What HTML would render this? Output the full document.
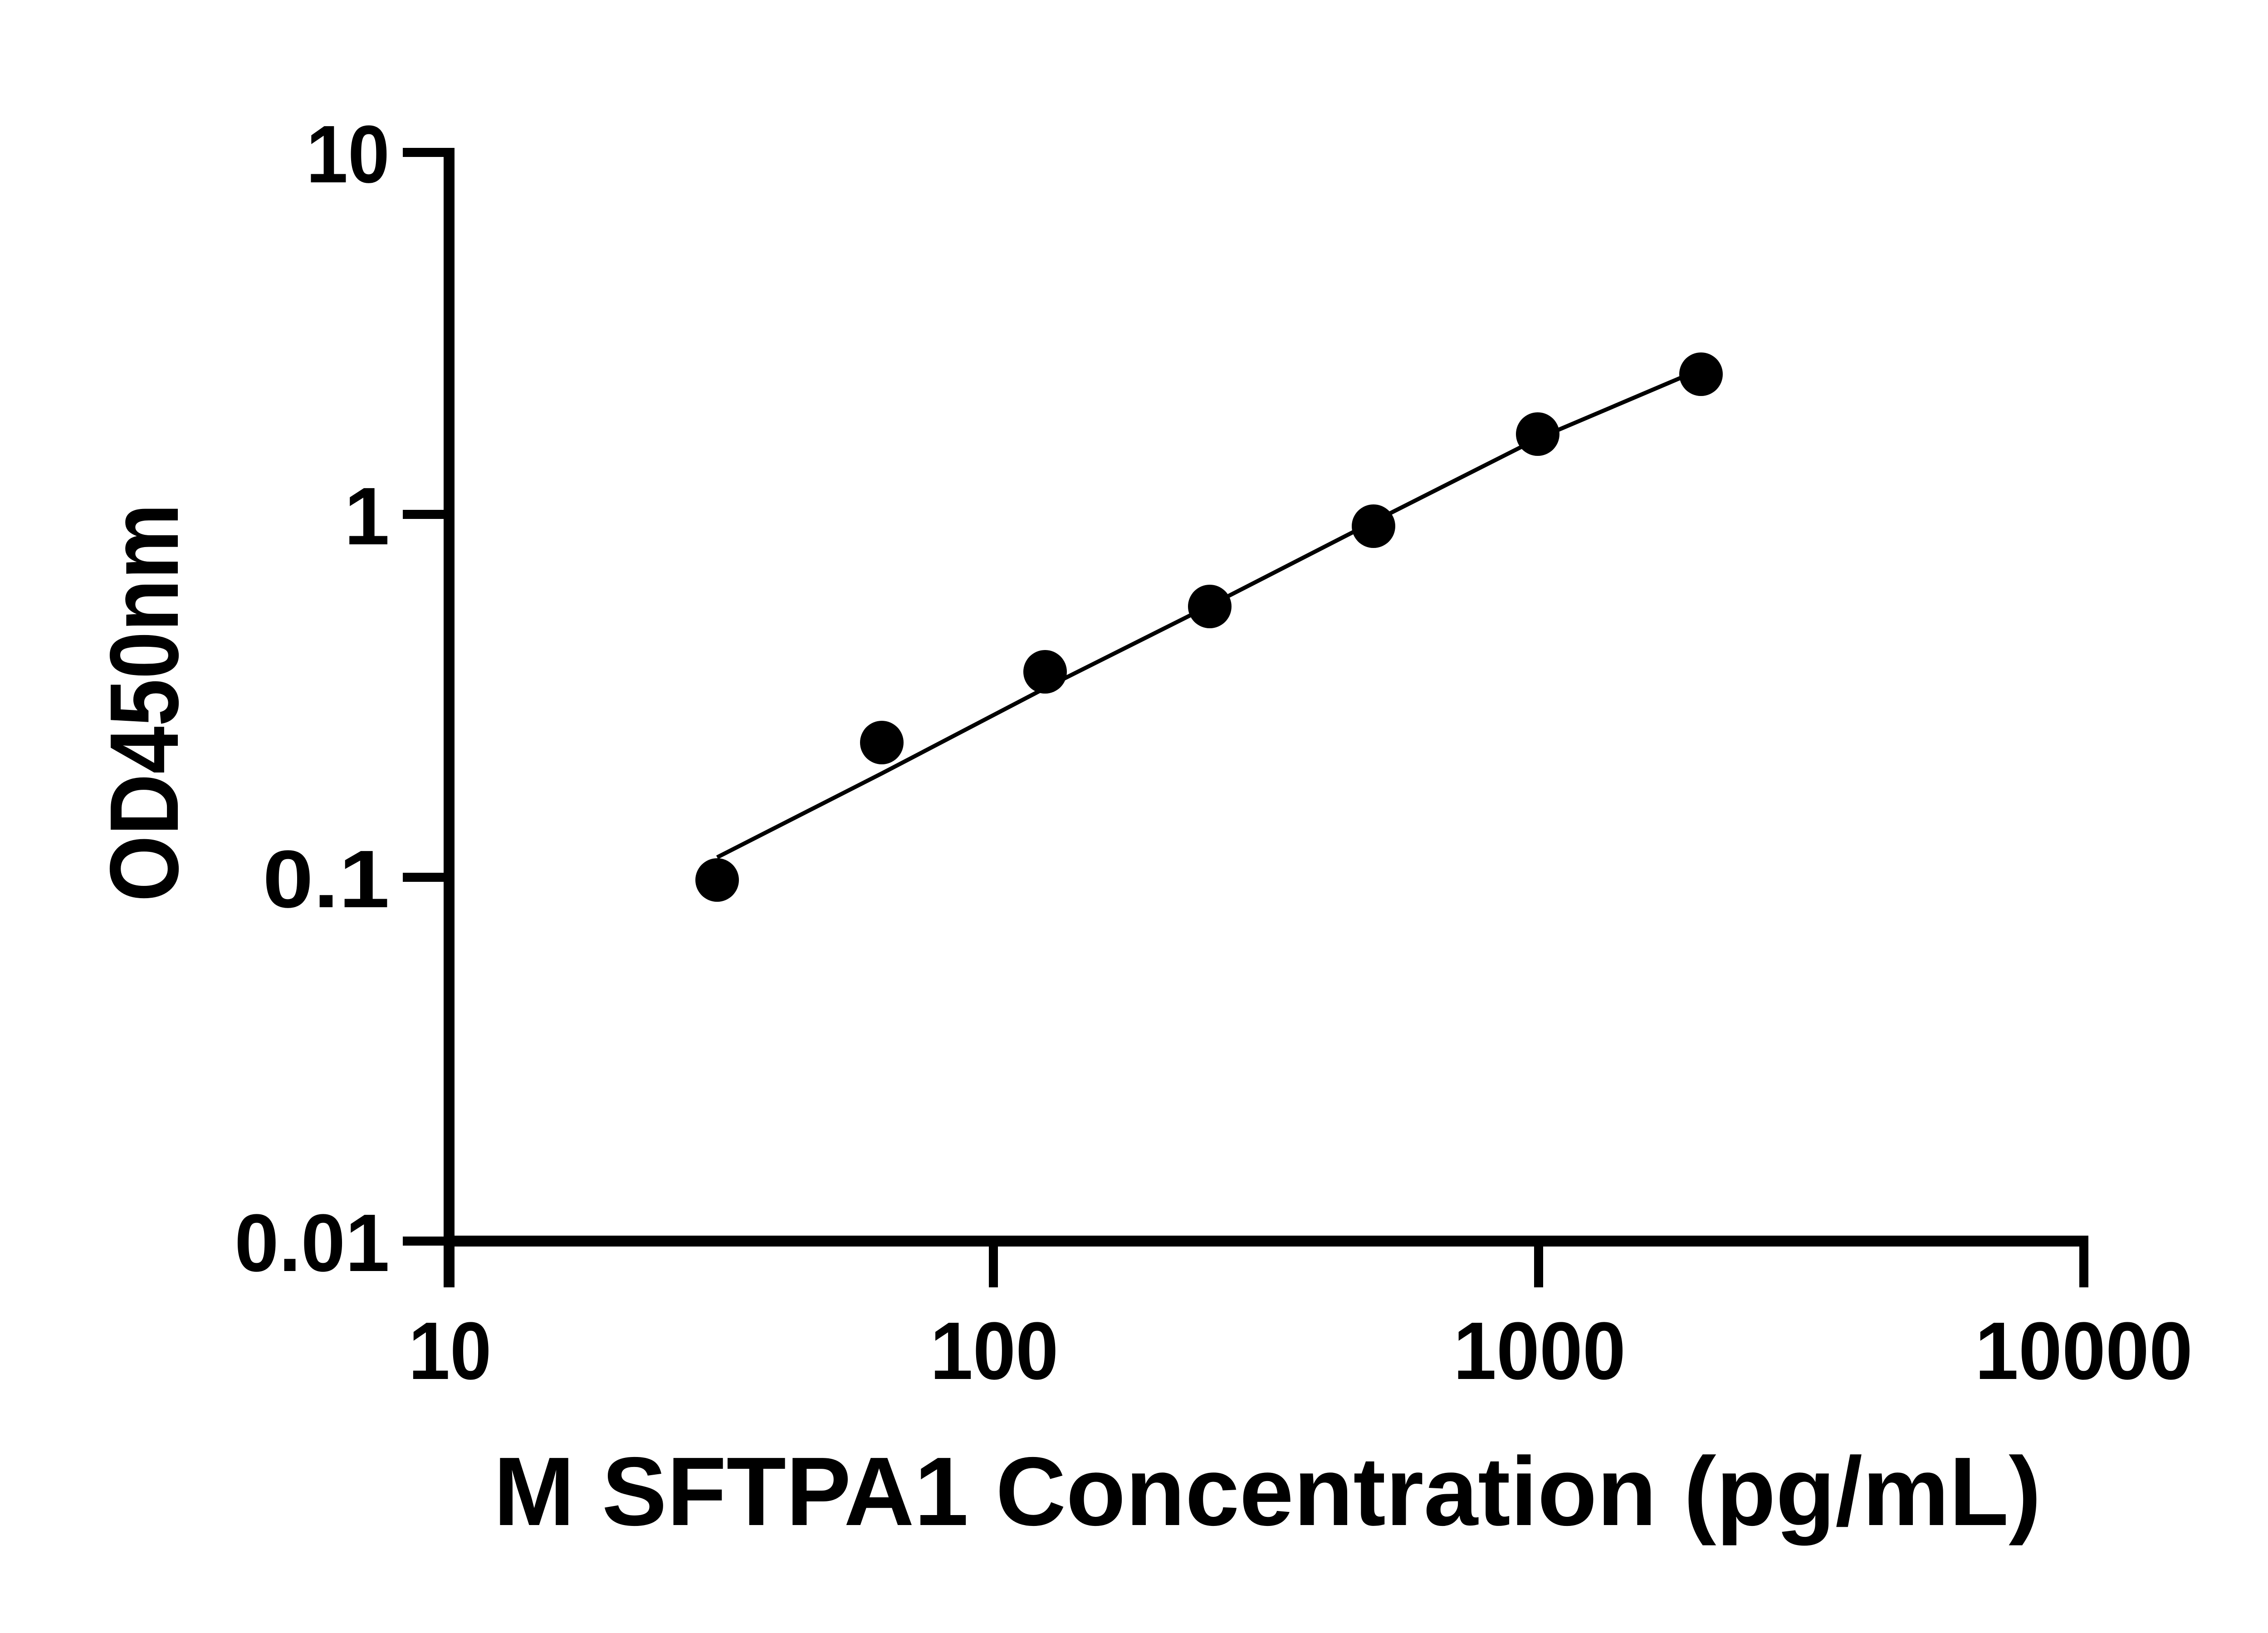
<!DOCTYPE html>
<html><head><style>html,body{margin:0;padding:0;background:#fff}svg{display:block}</style></head><body>
<svg width="5142" height="3600" viewBox="0 0 5142 3600" xmlns="http://www.w3.org/2000/svg">
<g stroke="#000" fill="none">
<line x1="990" y1="326" x2="990" y2="2838" stroke-width="24"/>
<line x1="978" y1="2736" x2="4604" y2="2736" stroke-width="24"/>
<g stroke-width="20">
<line x1="888" y1="336" x2="990" y2="336"/>
<line x1="888" y1="1134" x2="990" y2="1134"/>
<line x1="888" y1="1934" x2="990" y2="1934"/>
<line x1="888" y1="2736" x2="990" y2="2736"/>
<line x1="2190" y1="2736" x2="2190" y2="2838"/>
<line x1="3392" y1="2736" x2="3392" y2="2838"/>
<line x1="4594" y1="2736" x2="4594" y2="2838"/>
</g>
<path d="M1581,1890 L1944,1705 L2304,1517 L2667,1335 L3028,1150 L3390,967 L3705,833" stroke-width="9"/>
</g>
<g fill="#000">
<circle cx="1581" cy="1940" r="48"/>
<circle cx="1944" cy="1637" r="48"/>
<circle cx="2304" cy="1481" r="48"/>
<circle cx="2667" cy="1337" r="48"/>
<circle cx="3028" cy="1160" r="48"/>
<circle cx="3390" cy="957" r="48"/>
<circle cx="3750" cy="825" r="48"/>
</g>
<g font-family="Liberation Sans, sans-serif" font-weight="bold" fill="#000">
<g font-size="180" text-anchor="end">
<text x="859" y="402" textLength="184" lengthAdjust="spacingAndGlyphs">10</text>
<text x="859" y="1200">1</text>
<text x="859" y="2000" textLength="280" lengthAdjust="spacingAndGlyphs">0.1</text>
<text x="859" y="2802" textLength="342" lengthAdjust="spacingAndGlyphs">0.01</text>
</g>
<g font-size="180" text-anchor="middle">
<text x="992" y="3040" textLength="183" lengthAdjust="spacingAndGlyphs">10</text>
<text x="2192" y="3040" textLength="283" lengthAdjust="spacingAndGlyphs">100</text>
<text x="3394" y="3040" textLength="380" lengthAdjust="spacingAndGlyphs">1000</text>
<text x="4594" y="3040" textLength="480" lengthAdjust="spacingAndGlyphs">10000</text>
</g>
<text x="1088" y="3362" font-size="215" textLength="3412" lengthAdjust="spacingAndGlyphs">M SFTPA1 Concentration (pg/mL)</text>
<text transform="translate(392,1988) rotate(-90)" font-size="215" textLength="878" lengthAdjust="spacingAndGlyphs">OD450nm</text>
</g>
</svg>
</body></html>
